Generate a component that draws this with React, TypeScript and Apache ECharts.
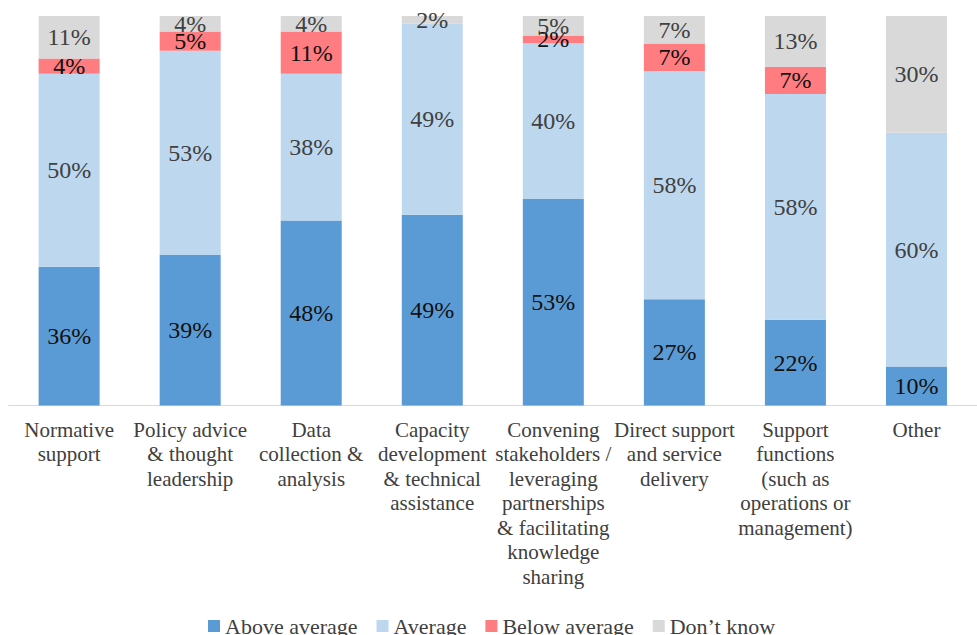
import React, { useEffect, useRef } from "react";
import * as echarts from "echarts";

const categories = [
  "Normative\nsupport",
  "Policy advice\n& thought\nleadership",
  "Data\ncollection &\nanalysis",
  "Capacity\ndevelopment\n& technical\nassistance",
  "Convening\nstakeholders /\nleveraging\npartnerships\n& facilitating\nknowledge\nsharing",
  "Direct support\nand service\ndelivery",
  "Support\nfunctions\n(such as\noperations or\nmanagement)",
  "Other",
];

const aboveAverage = [36, 39, 48, 49, 53, 27, 22, 10];
const average = [50, 53, 38, 49, 40, 58, 58, 60];
const belowAverage = [4, 5, 11, 0, 2, 7, 7, 0];
const dontKnow = [11, 4, 4, 2, 5, 7, 13, 30];

const seriesNames = ["Above average", "Average", "Below average", "Don\u2019t know"];
const seriesValues = [aboveAverage, average, belowAverage, dontKnow];
const seriesColors = ["#5B9BD5", "#BDD7EE", "#FF7C80", "#D9D9D9"];
const labelColors = ["#111111", "#404040", "#111111", "#404040"];

export default function App() {
  const ref = useRef<HTMLDivElement>(null);
  useEffect(() => {
    if (!ref.current) return;
    const chart = echarts.init(ref.current, undefined, { renderer: "svg" });
    const totals = categories.map((_, i) =>
      seriesValues.reduce((s, arr) => s + arr[i], 0)
    );
    const font = "Liberation Serif, Times New Roman, DejaVu Serif, serif";
    chart.setOption({
      animation: false,
      backgroundColor: "#ffffff",
      textStyle: { fontFamily: font },
      grid: { left: 8.6, top: 16, width: 982.4, height: 389.5, containLabel: false },
      legend: {
        left: 203,
        top: 610,
        icon: "rect",
        itemWidth: 12,
        itemHeight: 12,
        itemGap: 19,
        data: seriesNames,
        textStyle: { fontFamily: font, fontSize: 22, color: "#404040" },
      },
      xAxis: {
        type: "category",
        data: categories,
        axisLine: { show: true, lineStyle: { color: "#D9D9D9", width: 1 } },
        axisTick: { show: false },
        axisLabel: {
          interval: 0,
          margin: 12,
          fontFamily: font,
          fontSize: 21,
          lineHeight: 24.5,
          color: "#404040",
          align: "center",
        },
      },
      yAxis: {
        type: "value",
        min: 0,
        max: 100,
        show: false,
        splitLine: { show: false },
      },
      series: seriesValues.map((vals, si) => ({
        name: seriesNames[si],
        type: "bar",
        stack: "total",
        barWidth: 61,
        itemStyle: { color: seriesColors[si] },
        label: {
          show: true,
          position: "inside",
          fontFamily: font,
          fontSize: 24,
          color: labelColors[si],
          formatter: (p: any) => {
            const v = vals[p.dataIndex];
            return v > 0 ? v + "%" : "";
          },
        },
        data: vals.map((v, i) => (v / totals[i]) * 100),
      })),
    });
    return () => chart.dispose();
  }, []);
  return (
    <div
      ref={ref}
      style={{ position: "fixed", left: 0, top: 0, width: 977, height: 635 }}
    />
  );
}
